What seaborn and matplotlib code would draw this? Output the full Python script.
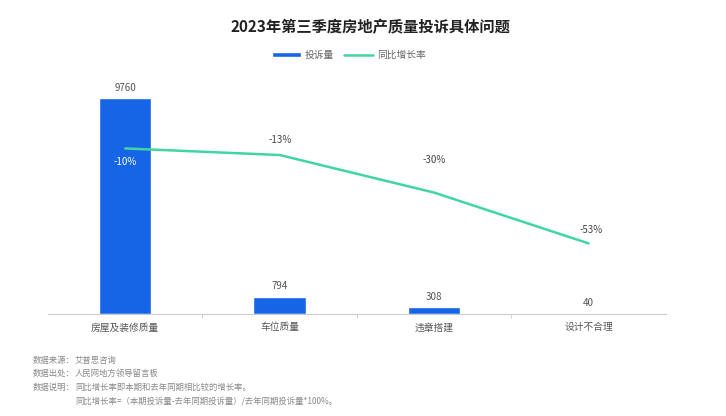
import seaborn as sns
import matplotlib.pyplot as plt
import pandas as pd

categories = ["房屋及装修质量", "车位质量", "违章搭建", "设计不合理"]
complaints = [9760, 794, 308, 40]
growth = [-10, -13, -30, -53]

bar_color = "#1565e6"
line_color = "#3fd6a2"

sns.set_style("white")
plt.rcParams["font.family"] = ["Noto Sans CJK SC", "DejaVu Sans"]

df = pd.DataFrame({"cat": categories, "n": complaints, "g": growth})

fig = plt.figure(figsize=(7.26, 4.16), dpi=100)
ax = fig.add_axes([0.0661, 0.245, 0.851, 0.531])

sns.barplot(data=df, x="cat", y="n", color=bar_color, width=0.34,
            saturation=1, ax=ax, label="投诉量")
if ax.get_legend():
    ax.get_legend().remove()
ax.set_ylim(0, 10000)
ax.set_xlim(-0.5, 3.5)
ax.set_xlabel("")
ax.set_ylabel("")
ax.set_yticks([])
for s in ["top", "right", "left"]:
    ax.spines[s].set_visible(False)
ax.spines["bottom"].set_color("#cccccc")
ax.spines["bottom"].set_linewidth(0.8)
ax.tick_params(axis="x", labelsize=7, colors="#555555", length=0, pad=6)
ax.set_xticks([0.5, 1.5, 2.5], minor=True)
ax.tick_params(axis="x", which="minor", length=3, color="#cccccc", bottom=True)
for i, v in enumerate(complaints):
    ax.annotate(str(v), (i, v), xytext=(0, 4), textcoords="offset points",
                ha="center", va="bottom", fontsize=7, color="#555555")

ax2 = ax.twinx()
sns.lineplot(data=df, x="cat", y="g", color=line_color, linewidth=1.8,
             ax=ax2, label="同比增长率", legend=False)
ax2.set_ylim(-85, 15)
ax2.set_yticks([])
ax2.set_ylabel("")
for s in ax2.spines.values():
    s.set_visible(False)

offsets = [(0, -6), (0, 7), (0, 20), (2, 6)]
for i, v in enumerate(growth):
    c = "white" if i == 0 else "#444444"
    va = "top" if i == 0 else "bottom"
    ax2.annotate(f"{v}%", (i, v), xytext=offsets[i], textcoords="offset points",
                 ha="center", va=va, fontsize=7, color=c)

h1, l1 = ax.get_legend_handles_labels()
h2, l2 = ax2.get_legend_handles_labels()
fig.legend(h1 + h2, l1 + l2, loc="center", bbox_to_anchor=(0.48, 0.868),
           ncol=2, frameon=False, fontsize=7, labelcolor="#666666",
           handlelength=3, handleheight=0.5, columnspacing=1.0, handletextpad=0.4)

fig.text(0.51, 0.935, "2023年第三季度房地产质量投诉具体问题", ha="center", va="center",
         fontsize=11, fontweight="bold", color="#222222")

notes = [("数据来源：", "艾普思咨询"),
         ("数据出处：", "人民网地方领导留言板"),
         ("数据说明：", "同比增长率即本期和去年同期相比较的增长率。"),
         ("", "同比增长率=（本期投诉量-去年同期投诉量）/去年同期投诉量*100%。")]
for k, (a, b) in enumerate(notes):
    y = 1 - (360 + k * 13.7) / 416
    fig.text(33 / 726, y, a, fontsize=6, color="#888888", va="center")
    fig.text(75 / 726, y, b, fontsize=6, color="#888888", va="center")

fig.savefig("out.png", dpi=100)
